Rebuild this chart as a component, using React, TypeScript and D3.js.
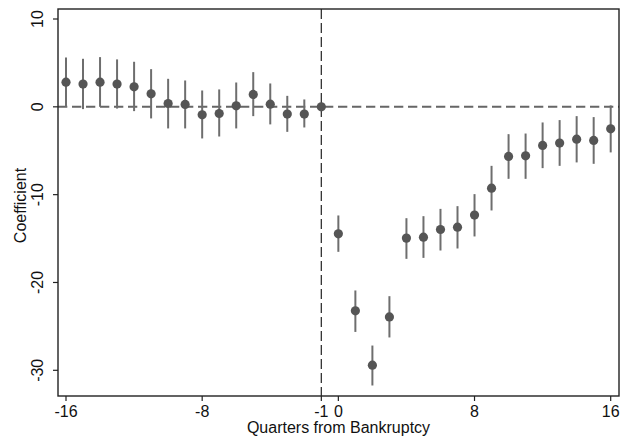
import React from "react";
import * as d3 from "d3";

const quarters = [-16,-15,-14,-13,-12,-11,-10,-9,-8,-7,-6,-5,-4,-3,-2,-1,0,1,2,3,4,5,6,7,8,9,10,11,12,13,14,15,16];
const coef = [2.81,2.59,2.81,2.59,2.28,1.48,0.38,0.27,-0.91,-0.76,0.11,1.41,0.3,-0.83,-0.83,0,
  -14.46,-23.23,-29.42,-23.92,-14.95,-14.84,-13.97,-13.7,-12.33,-9.26,-5.65,-5.58,-4.4,-4.13,-3.68,-3.83,-2.51];
const ciHigh = [5.62,5.47,5.66,5.4,5.13,4.29,3.19,3.0,1.86,1.98,2.77,3.95,2.66,1.25,0.84,0,
  -12.37,-20.91,-27.18,-21.56,-12.68,-12.45,-11.62,-11.31,-9.94,-6.72,-3.11,-3.04,-1.78,-1.51,-1.06,-1.17,0.16];
const ciLow = [0.0,-0.26,0.0,-0.2,-0.49,-1.32,-2.46,-2.46,-3.6,-3.38,-2.46,-1.06,-2.0,-2.85,-2.35,0,
  -16.51,-25.63,-31.73,-26.26,-17.31,-17.2,-16.36,-16.13,-14.76,-11.8,-8.2,-8.2,-6.98,-6.72,-6.33,-6.49,-5.19];
const xTicks = [-16,-8,-1,0,8,16];
const yTicks = [10,0,-10,-20,-30];

export default function App() {
  const W = 621, H = 445;
  const left = 58, right = 619, top = 9, bottom = 396;
  const x = d3.scaleLinear().domain([-16, 16]).range([66, 610.7]);
  const y = d3.scaleLinear().domain([10, -30]).range([19, 370.3]);
  const font = "Liberation Sans, Arial, Helvetica, sans-serif";
  return (
    <svg width={W} height={H} style={{ position: "absolute", left: 0, top: 0, background: "#fff" }} fontFamily={font}>
      <rect x={0} y={0} width={W} height={H} fill="#fff" />
      {/* reference lines */}
      <line x1={left} x2={right} y1={y(0)} y2={y(0)} stroke="#666" strokeWidth={2} strokeDasharray="9.3,4.7" />
      <line x1={x(-1)} x2={x(-1)} y1={top} y2={bottom} stroke="#333" strokeWidth={1.3} strokeDasharray="10,4" />
      {/* error bars */}
      {quarters.map((q, i) => (
        ciHigh[i] !== ciLow[i] ? (
          <line key={"e" + q} x1={x(q)} x2={x(q)} y1={y(ciHigh[i])} y2={y(ciLow[i])} stroke="#6e6e6e" strokeWidth={2} />
        ) : null
      ))}
      {/* points */}
      {quarters.map((q, i) => (
        <circle key={"p" + q} cx={x(q)} cy={y(coef[i])} r={4.6} fill="#555" />
      ))}
      {/* frame */}
      <rect x={left} y={top} width={right - left} height={bottom - top} fill="none" stroke="#222" strokeWidth={1.4} />
      {/* x ticks */}
      {xTicks.map(t => (
        <g key={"xt" + t}>
          <line x1={x(t)} x2={x(t)} y1={bottom} y2={bottom + 5} stroke="#222" strokeWidth={1.2} />
          <text x={x(t)} y={417} textAnchor="middle" fontSize={16} fill="#111">{t}</text>
        </g>
      ))}
      {/* y ticks */}
      {yTicks.map(t => (
        <g key={"yt" + t}>
          <line x1={left - 5} x2={left} y1={y(t)} y2={y(t)} stroke="#222" strokeWidth={1.2} />
          <text transform={`translate(43,${y(t)}) rotate(-90)`} textAnchor="middle" fontSize={16} fill="#111">{t}</text>
        </g>
      ))}
      <text x={(left + right) / 2} y={433} textAnchor="middle" fontSize={16} fill="#111">Quarters from Bankruptcy</text>
      <text transform={`translate(26,${(top + bottom) / 2 + 3}) rotate(-90)`} textAnchor="middle" fontSize={16} fill="#111">Coefficient</text>
    </svg>
  );
}
